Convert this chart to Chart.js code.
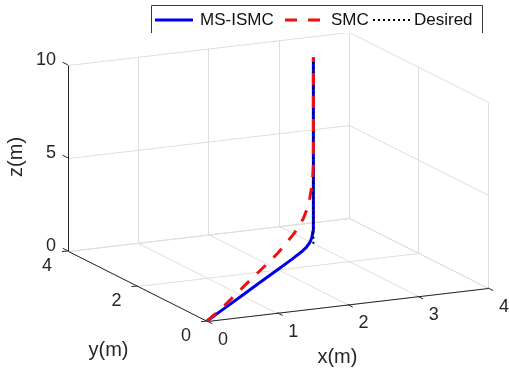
<!DOCTYPE html>
<html>
<head>
<meta charset="utf-8">
<script src="https://cdn.jsdelivr.net/npm/chart.js@4"></script>
<style>
  html, body { margin: 0; padding: 0; background: #fff; }
  canvas { display: block; }
</style>
</head>
<body>
<canvas id="c" width="509" height="372"></canvas>
<script>
// ---- Trajectories (metres) ----
// MS-ISMC response
const msX = [0, 0.5, 1.0, 1.5, 2.0, 2.4, 2.65, 2.8, 2.9, 2.96, 2.99, 3.0, 3.0];
const msY = [0, 0.5, 1.0, 1.5, 2.0, 2.4, 2.65, 2.8, 2.9, 2.96, 2.99, 3.0, 3.0];
const msZ = [0, 0, 0, 0, 0, 0, 0.02, 0.08, 0.2, 0.4, 0.7, 1.2, 10];

// SMC response
const smcX = [0, 0.25, 0.5, 0.9, 1.3, 1.7, 2.0, 2.25, 2.45, 2.6, 2.72, 2.82, 2.9, 2.95, 2.98, 3.0, 3.0];
const smcY = [0, 0.25, 0.5, 0.9, 1.3, 1.7, 2.0, 2.25, 2.45, 2.6, 2.72, 2.82, 2.9, 2.95, 2.98, 3.0, 3.0];
const smcZ = [0, 0.06, 0.15, 0.35, 0.55, 0.72, 0.88, 1.1, 1.3, 1.5, 1.75, 2.1, 2.6, 3.1, 3.6, 4.2, 10];

// Reference (desired) path
const desX = [3, 3];
const desY = [3, 3];
const desZ = [0, 10];

// ---- Axes ----
const xLim = [0, 4], yLim = [0, 4], zLim = [0, 10];
const xTicks = [0, 1, 2, 3, 4];
const yTicks = [0, 2, 4];
const zTicks = [0, 5, 10];
const xTitle = 'x(m)', yTitle = 'y(m)', zTitle = 'z(m)';

// ---- Camera: orthographic view with azimuth / elevation and plot-box size ----
const view = { az: 25.8, el: 14.1, box: [312, 319.5, 191.8] };
const rad = Math.PI / 180;
const ca = Math.cos(view.az * rad), sa = Math.sin(view.az * rad);
const ce = Math.cos(view.el * rad), se = Math.sin(view.el * rad);

function project(x, y, z) {
  const X = (x - xLim[0]) / (xLim[1] - xLim[0]) * view.box[0];
  const Y = (y - yLim[0]) / (yLim[1] - yLim[0]) * view.box[1];
  const Z = (z - zLim[0]) / (zLim[1] - zLim[0]) * view.box[2];
  return { x: X * ca - Y * sa, y: (X * sa + Y * ca) * se + Z * ce };
}
const path = (xs, ys, zs) => xs.map((v, i) => project(v, ys[i], zs[i]));

const FONT = '"Liberation Sans", Arial, Helvetica, sans-serif';
const INK = '#262626';
const GRID = '#dedede';

// Box, grid, ticks and labels of the 3-D axes
const axes3d = {
  id: 'axes3d',
  beforeDatasetsDraw(chart) {
    const ctx = chart.ctx, sx = chart.scales.x, sy = chart.scales.y;
    const pix = (x, y, z) => {
      const p = project(x, y, z);
      return [sx.getPixelForValue(p.x), sy.getPixelForValue(p.y)];
    };
    const crisp = v => Math.round(v) + 0.5;
    const line = (a, b, color, w) => {
      const A = pix(...a), B = pix(...b);
      ctx.strokeStyle = color; ctx.lineWidth = w;
      ctx.beginPath();
      ctx.moveTo(crisp(A[0]), crisp(A[1]));
      ctx.lineTo(crisp(B[0]), crisp(B[1]));
      ctx.stroke();
    };
    const unit = (a, b) => {
      const A = pix(...a), B = pix(...b);
      const dx = B[0] - A[0], dy = B[1] - A[1], L = Math.hypot(dx, dy);
      return [dx / L, dy / L];
    };
    ctx.save();
    ctx.lineCap = 'butt';

    // grid on floor, back wall (y = max) and side wall (x = max)
    const [x0, x1] = xLim, [y0, y1] = yLim, [z0, z1] = zLim;
    xTicks.forEach(t => { line([t, y0, z0], [t, y1, z0], GRID, 1); line([t, y1, z0], [t, y1, z1], GRID, 1); });
    yTicks.forEach(t => { line([x0, t, z0], [x1, t, z0], GRID, 1); line([x1, t, z0], [x1, t, z1], GRID, 1); });
    zTicks.forEach(t => { line([x0, y1, t], [x1, y1, t], GRID, 1); line([x1, y0, t], [x1, y1, t], GRID, 1); });

    // axis lines
    line([x0, y0, z0], [x1, y0, z0], INK, 1);
    line([x0, y0, z0], [x0, y1, z0], INK, 1);
    line([x0, y1, z0], [x0, y1, z1], INK, 1);

    // tick marks
    const tl = 6;
    const dY = unit([x0, y1, z0], [x0, y0, z0]);   // toward -y
    const dX = unit([x1, y0, z0], [x0, y0, z0]);   // toward -x
    const dZ = unit([x0, y0, z0], [x0, y1, z0]);   // toward +y
    ctx.strokeStyle = INK; ctx.lineWidth = 1;
    const tick = (p, d) => {
      ctx.beginPath();
      ctx.moveTo(p[0], p[1]);
      ctx.lineTo(p[0] + d[0] * tl, p[1] + d[1] * tl);
      ctx.stroke();
    };
    xTicks.forEach(t => tick(pix(t, y0, z0), dY));
    yTicks.forEach(t => tick(pix(x0, t, z0), dX));
    zTicks.forEach(t => tick(pix(x0, y1, t), dZ));

    // tick labels
    ctx.fillStyle = INK;
    ctx.font = '18px ' + FONT;
    ctx.textBaseline = 'middle';
    ctx.textAlign = 'center';
    xTicks.forEach(t => { const p = pix(t, y0, z0); ctx.fillText(String(t), p[0] + 16, p[1] + 19); });
    yTicks.forEach(t => { const p = pix(x0, t, z0); ctx.fillText(String(t), p[0] - 21, p[1] + 15); });
    ctx.textAlign = 'right';
    zTicks.forEach(t => { const p = pix(x0, y1, t); ctx.fillText(String(t), p[0] - 12, p[1] - 5); });

    // axis titles
    ctx.font = '20px ' + FONT;
    ctx.textAlign = 'center';
    let p = pix((x0 + x1) / 2, y0, z0);
    ctx.fillText(xTitle, p[0] - 10, p[1] + 53);
    p = pix(x0, (y0 + y1) / 2, z0);
    ctx.fillText(yTitle, p[0] - 29, p[1] + 65);
    p = pix(x0, y1, (z0 + z1) / 2);
    ctx.translate(p[0] - 51, p[1] - 1);
    ctx.rotate(-Math.PI / 2);
    ctx.fillText(zTitle, 0, 0);
    ctx.restore();
  }
};

// Horizontal legend in a framed box along the top
const legendSlots = [{ sample: 155, text: 200 }, { sample: 285, text: 331 }, { sample: 373, text: 414 }];
const legendBox = { left: 151, top: 5, right: 482, bottom: 33 };
const sampleLen = 38;

const frameLegend = {
  id: 'frameLegend',
  afterDraw(chart) {
    const ctx = chart.ctx, b = legendBox;
    ctx.save();
    ctx.fillStyle = '#fff';
    ctx.fillRect(b.left, b.top, b.right - b.left, b.bottom - b.top);
    ctx.strokeStyle = '#3a3a3a'; ctx.lineWidth = 1;
    ctx.beginPath();
    ctx.moveTo(b.left + 0.5, b.bottom); ctx.lineTo(b.left + 0.5, b.top + 0.5);
    ctx.lineTo(b.right + 0.5, b.top + 0.5); ctx.lineTo(b.right + 0.5, b.bottom);
    ctx.stroke();
    const yMid = (b.top + b.bottom) / 2 + 1;
    chart.data.datasets.forEach((ds, i) => {
      const s = legendSlots[i];
      ctx.strokeStyle = ds.borderColor;
      ctx.lineWidth = ds.borderWidth;
      ctx.setLineDash(ds.borderDash || []);
      ctx.lineDashOffset = 0;
      ctx.beginPath();
      ctx.moveTo(s.sample, yMid); ctx.lineTo(s.sample + sampleLen, yMid);
      ctx.stroke();
      ctx.setLineDash([]);
      ctx.fillStyle = '#111';
      ctx.font = '17px ' + FONT;
      ctx.textAlign = 'left'; ctx.textBaseline = 'middle';
      ctx.fillText(ds.label, s.text, yMid);
    });
    ctx.restore();
  }
};

new Chart(document.getElementById('c'), {
  type: 'scatter',
  data: {
    datasets: [
      { label: 'MS-ISMC', data: path(msX, msY, msZ), borderColor: '#0000e8', borderWidth: 3,
        showLine: true, pointRadius: 0, borderJoinStyle: 'round', order: 3 },
      { label: 'SMC', data: path(smcX, smcY, smcZ), borderColor: '#ee1111', borderWidth: 3,
        borderDash: [12, 11], showLine: true, pointRadius: 0, borderJoinStyle: 'round', order: 1 },
      { label: 'Desired', data: path(desX, desY, desZ), borderColor: '#000000', borderWidth: 2,
        borderDash: [2, 3], showLine: true, pointRadius: 0, order: 2 }
    ]
  },
  options: {
    responsive: false,
    animation: false,
    layout: { padding: 0, autoPadding: false },
    scales: {
      x: { type: 'linear', min: -207, max: 302, display: false },
      y: { type: 'linear', min: -51, max: 321, display: false }
    },
    plugins: { legend: { display: false }, tooltip: { enabled: false } }
  },
  plugins: [axes3d, frameLegend]
});
</script>
</body>
</html>
